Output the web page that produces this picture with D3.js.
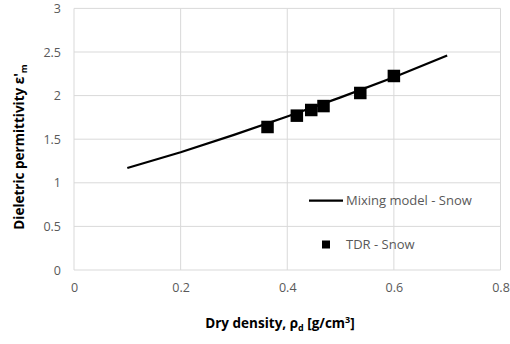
<!DOCTYPE html>
<html>
<head>
<meta charset="utf-8">
<script src="https://cdn.jsdelivr.net/npm/d3@7"></script>
<style>
  body { margin: 0; background: #fff; }
  text { font-family: "Open Sans", "Noto Sans", sans-serif; }
  .tick text { fill: #595959; font-size: 12.5px; }
  .title { font-weight: bold; font-size: 13.5px; fill: #000; }
  .legend text { fill: #595959; font-size: 13px; }
</style>
</head>
<body>
<div id="chart"></div>
<script>
// mixing model curve
const modelX = [0.1, 0.2, 0.3, 0.4, 0.5, 0.6, 0.7];
const modelY = [1.17, 1.35, 1.55, 1.76, 1.98, 2.21, 2.46];

// TDR measurements
const tdrX = [0.363, 0.418, 0.445, 0.468, 0.537, 0.600];
const tdrY = [1.64, 1.77, 1.835, 1.88, 2.03, 2.225];

const xTicks = [0, 0.2, 0.4, 0.6, 0.8];
const yTicks = [0, 0.5, 1, 1.5, 2, 2.5, 3];

const width = 510, height = 344;
const margin = {top: 8.4, right: 9.5, bottom: 74, left: 74};

const svg = d3.select('#chart').append('svg')
    .attr('width', width).attr('height', height);

const x = d3.scaleLinear().domain([0, 0.8]).range([margin.left, width - margin.right]);
const y = d3.scaleLinear().domain([0, 3]).range([height - margin.bottom, margin.top]);

// gridlines
const grid = svg.append('g').attr('stroke', '#d9d9d9').attr('stroke-width', 1);
grid.selectAll('line.gx').data(xTicks).join('line').classed('gx', true)
    .attr('x1', d => x(d)).attr('x2', d => x(d))
    .attr('y1', y(0)).attr('y2', y(3));
grid.selectAll('line.gy').data(yTicks).join('line').classed('gy', true)
    .attr('x1', x(0)).attr('x2', x(0.8))
    .attr('y1', d => y(d)).attr('y2', d => y(d));

// axes (labels only, Excel style)
const xAxis = svg.append('g').attr('transform', `translate(0,${y(0)})`)
    .call(d3.axisBottom(x).tickValues(xTicks).tickFormat(d3.format('')).tickSize(0).tickPadding(13));
xAxis.select('.domain').remove();

const yAxis = svg.append('g').attr('transform', `translate(${x(0)},0)`)
    .call(d3.axisLeft(y).tickValues(yTicks).tickFormat(d3.format('')).tickSize(0).tickPadding(13));
yAxis.select('.domain').remove();

// model line
const line = d3.line().x((d, i) => x(modelX[i])).y(d => y(d));
svg.append('path').datum(modelY)
    .attr('fill', 'none').attr('stroke', '#000').attr('stroke-width', 2.25)
    .attr('d', line);

// TDR squares
const sz = 12.5;
svg.selectAll('rect.tdr').data(tdrX).join('rect').classed('tdr', true)
    .attr('x', d => x(d) - sz / 2)
    .attr('y', (d, i) => y(tdrY[i]) - sz / 2)
    .attr('width', sz).attr('height', sz)
    .attr('fill', '#000');

// legend
const legend = svg.append('g').classed('legend', true);
legend.append('line').attr('x1', 309).attr('x2', 343).attr('y1', 200.5).attr('y2', 200.5)
    .attr('stroke', '#000').attr('stroke-width', 2.25);
legend.append('text').attr('x', 346).attr('y', 205).text('Mixing model - Snow');
legend.append('rect').attr('x', 322).attr('y', 240.5).attr('width', 8).attr('height', 8).attr('fill', '#000');
legend.append('text').attr('x', 346).attr('y', 249).text('TDR - Snow');

// axis titles
const xt = svg.append('text').classed('title', true)
    .attr('x', 280).attr('y', 328).attr('text-anchor', 'middle');
xt.append('tspan').text('Dry density, ρ');
xt.append('tspan').attr('font-size', '9px').attr('dy', 3).text('d');
xt.append('tspan').attr('dy', -3).text(' [g/cm');
xt.append('tspan').attr('font-size', '9px').attr('dy', -5).text('3');
xt.append('tspan').attr('dy', 5).text(']');

const yt = svg.append('text').classed('title', true)
    .attr('transform', `translate(24,147) rotate(-90)`).attr('text-anchor', 'middle');
yt.append('tspan').text("Dieletric permittivity ε'");
yt.append('tspan').attr('font-size', '9px').attr('dy', 3).text('m');
</script>
</body>
</html>
